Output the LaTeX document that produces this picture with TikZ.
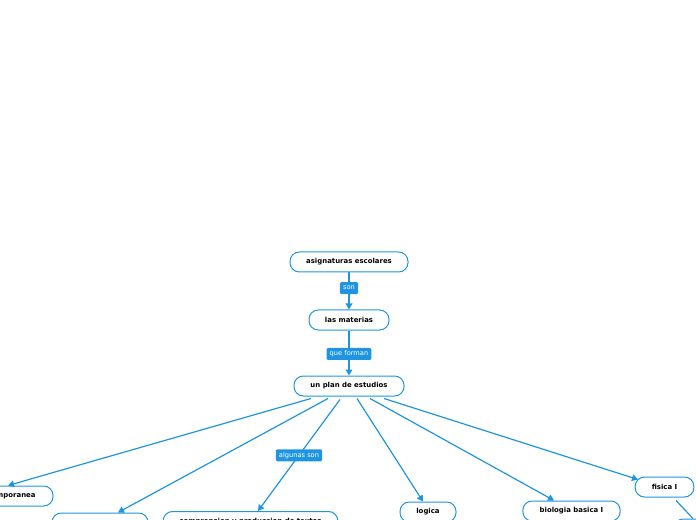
\documentclass[tikz,border=0pt]{standalone}
\usepackage{fontspec}
\setmainfont{DejaVu Sans}
\usepackage{xcolor}
\usetikzlibrary{arrows.meta,positioning,calc}
\definecolor{MapBlue}{HTML}{1F95E2}
\definecolor{MapWhite}{HTML}{FFFFFF}

\begin{document}
\begin{tikzpicture}[
    x=0.75pt, y=-0.75pt,
    topic/.style={draw=MapBlue, fill=MapWhite, line width=0.75pt,
      rounded corners=7pt, minimum height=15pt, inner sep=0pt,
      font=\fontsize{5.2}{6}\selectfont\bfseries, text=black},
    tag/.style={fill=MapBlue, rounded corners=1pt, inner xsep=2.4pt,
      inner ysep=1.6pt, minimum height=9pt, text=MapWhite,
      font=\fontsize{5}{6}\selectfont},
    link/.style={MapBlue, line width=0.9pt,
      -{Triangle[length=4.5pt,width=5pt]}}
  ]
    \useasboundingbox (0,0) rectangle (696,520);
    \clip (0,0) rectangle (696,520);
    % main chain
    \node[topic, minimum width=88.5pt] (asig) at (349,262) {asignaturas escolares};
    \node[topic, minimum width=60pt] (mat) at (349,320) {las materias};
    \node[topic, minimum width=82.5pt] (plan) at (349,386) {un plan de estudios};
    % subjects
    \node[topic, minimum width=72pt] (contemp) at (5,496) {contemporanea};
    \node[topic, minimum width=72pt] (otra) at (100,523) {};
    \node[topic, minimum width=131pt] (textos) at (250.5,521.5) {comprension y produccion de textos};
    \node[topic, minimum width=42pt] (logica) at (428,512) {logica};
    \node[topic, minimum width=73pt] (bio) at (571.5,511) {biologia basica I};
    \node[topic, minimum width=44pt] (fisica) at (664.5,487) {fisica I};
    \node[topic, minimum width=72pt] (fis2) at (722,529) {};
    % chain links
    \draw[link] (asig) -- node[tag, pos=0.42] {son} (mat);
    \draw[link] (mat) -- node[tag, pos=0.52] {que forman} (plan);
    % plan to subjects
    \foreach \tgt/\dx/\tx in {contemp/-38/3, otra/-21/18, logica/8/-5, bio/21/-17.5}{
      \draw[link] ($(plan.south)+(\dx,2)$) -- ($(\tgt.north)+(\tx,0)$);
    }
    \draw[link] ($(plan.south)+(-9,3)$) -- node[tag] {algunas son} ($(textos.north)+(7.5,0)$);
    \draw[link] ($(plan.south)+(35,2)$) -- ($(fisica.north)+(-26.5,3)$);
    \draw[MapBlue, line width=0.9pt] ($(fisica.south)+(11.5,3)$) -- ($(fis2.north)+(-29,0)$);
  \end{tikzpicture}
\end{document}
